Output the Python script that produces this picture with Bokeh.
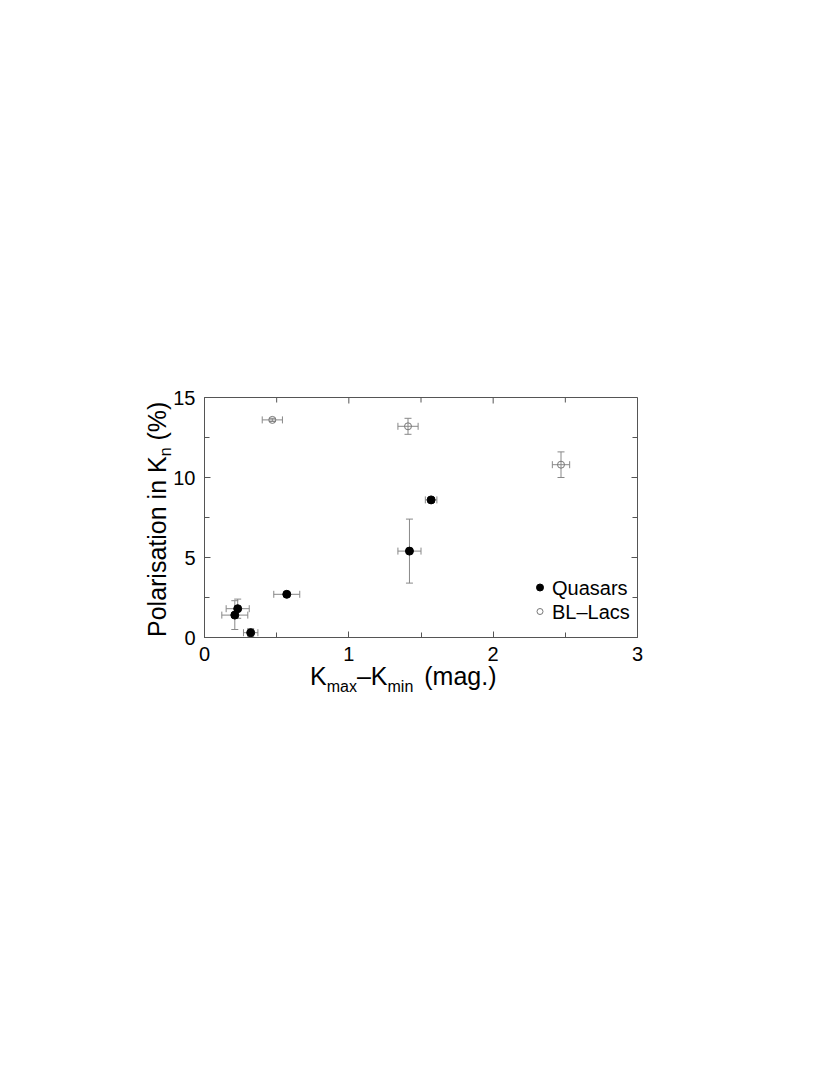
import numpy as np
from bokeh.plotting import figure
from bokeh.layouts import column
from bokeh.models import (ColumnDataSource, Whisker, TeeHead, LinearAxis, Range1d,
                          Label, FixedTicker, Div)
from bokeh.embed import file_html
from bokeh.resources import INLINE

# ---- data ----
q_x = [0.21, 0.23, 0.32, 0.57, 1.42, 1.57]
q_y = [1.4, 1.8, 0.3, 2.7, 5.4, 8.6]
q_xerr = [0.09, 0.08, 0.05, 0.09, 0.08, 0.04]
q_yerr = [0.9, 0.6, 0.25, 0.1, 2.0, 0.15]

b_x = [0.47, 1.41, 2.47]
b_y = [13.6, 13.2, 10.8]
b_xerr = [0.07, 0.07, 0.06]
b_yerr = [0.1, 0.5, 0.8]

x_ticks = [0, 1, 2, 3]
y_ticks = [0, 5, 10, 15]
x_minor = [0.5, 1.5, 2.5]
y_minor = [2.5, 7.5, 12.5]
legend_labels = ["Quasars", "BL\u2013Lacs"]
x_title = ("K", "max", "\u2013K", "min", "(mag.)")
y_title = ("Polarisation in K", "n", "(%)")

FONT = "Liberation Sans"
AXC = "#555555"
ERRC = "#888888"

# frame geometry (page pixels, measured on the reference)
FL, FT, FW, FH = 205, 397, 433, 240
XMIN, XMAX, YMIN, YMAX = 0, 3, 0, 15
BL, BT, BR, BB = FL - 1, FT, 160, 410
PH = BT + FH + BB


def X(px):
    return XMIN + (px - FL) / FW * (XMAX - XMIN)


def Y(py):
    return YMIN + (FT + FH - py) / FH * (YMAX - YMIN)


p = figure(frame_width=FW, frame_height=FH,
           min_border_left=BL, min_border_top=BT,
           min_border_right=BR, min_border_bottom=BB,
           x_range=Range1d(XMIN, XMAX), y_range=Range1d(YMIN, YMAX),
           output_backend="svg", toolbar_location=None,
           x_axis_location=None, y_axis_location=None,
           margin=(-PH, 0, 0, 0))
p.xgrid.visible = False
p.ygrid.visible = False
p.outline_line_color = AXC
p.background_fill_color = "white"
p.border_fill_color = None


def make_axis(ticks, minor):
    ax = LinearAxis(ticker=FixedTicker(ticks=ticks, minor_ticks=minor))
    ax.axis_line_color = AXC
    ax.major_tick_line_color = AXC
    ax.minor_tick_line_color = AXC
    ax.major_tick_in = 6
    ax.major_tick_out = 0
    ax.minor_tick_in = 5
    ax.minor_tick_out = 0
    ax.major_label_text_font = FONT
    ax.major_label_text_color = "black"
    ax.major_label_text_font_size = "20px"
    return ax


xb = make_axis(x_ticks, x_minor)
xb.major_label_standoff = 9
yl = make_axis(y_ticks, y_minor)
yl.major_label_standoff = 9
p.add_layout(xb, "below")
p.add_layout(yl, "left")

# inward ticks on the top and right edges of the frame
dy_major = 6 / FH * (YMAX - YMIN)
dy_minor = 5 / FH * (YMAX - YMIN)
dx_major = 6 / FW * (XMAX - XMIN)
dx_minor = 5 / FW * (XMAX - XMIN)
p.segment(x0=x_ticks, y0=[YMAX] * len(x_ticks), x1=x_ticks,
          y1=[YMAX - dy_major] * len(x_ticks), line_color=AXC, line_width=1)
p.segment(x0=x_minor, y0=[YMAX] * len(x_minor), x1=x_minor,
          y1=[YMAX - dy_minor] * len(x_minor), line_color=AXC, line_width=1)
p.segment(x0=[XMAX] * len(y_ticks), y0=y_ticks, x1=[XMAX - dx_major] * len(y_ticks),
          y1=y_ticks, line_color=AXC, line_width=1)
p.segment(x0=[XMAX] * len(y_minor), y0=y_minor, x1=[XMAX - dx_minor] * len(y_minor),
          y1=y_minor, line_color=AXC, line_width=1)

# ---- error bars ----
qsrc = ColumnDataSource(dict(
    x=q_x, y=q_y,
    xl=np.array(q_x) - np.array(q_xerr), xu=np.array(q_x) + np.array(q_xerr),
    yl=np.array(q_y) - np.array(q_yerr), yu=np.array(q_y) + np.array(q_yerr)))
bsrc = ColumnDataSource(dict(
    x=b_x, y=b_y,
    xl=np.array(b_x) - np.array(b_xerr), xu=np.array(b_x) + np.array(b_xerr),
    yl=np.array(b_y) - np.array(b_yerr), yu=np.array(b_y) + np.array(b_yerr)))

for src in (qsrc, bsrc):
    for base, lo, up, dim in (("y", "xl", "xu", "width"), ("x", "yl", "yu", "height")):
        p.add_layout(Whisker(source=src, base=base, lower=lo, upper=up, dimension=dim,
                             line_color=ERRC, line_width=1, level="underlay",
                             lower_head=TeeHead(size=7, line_color=ERRC, line_width=1),
                             upper_head=TeeHead(size=7, line_color=ERRC, line_width=1)))

p.scatter("x", "y", source=qsrc, size=8, marker="circle",
          fill_color="black", line_color="black")
p.scatter("x", "y", source=bsrc, size=7, marker="circle",
          fill_color=None, line_color="#777777", line_width=1)

# ---- legend (manual) ----
p.scatter([X(540.5)], [Y(587)], size=7, marker="circle", fill_color="black", line_color="black")
p.scatter([X(540.5)], [Y(611)], size=6, marker="circle", fill_color=None, line_color="#777777")
for txt, py in zip(legend_labels, [587, 611]):
    p.add_layout(Label(x=X(552.5), y=Y(py), text=txt, text_font=FONT,
                       text_font_size="20px", text_baseline="middle",
                       text_align="left", text_color="black"))

# ---- axis titles (HTML, for the subscripts), laid under the transparent plot border ----
LH = 28          # line height of the 25px titles
ASC = 22.7       # baseline offset inside the line box
sub_x = "font-size:16px; vertical-align:-7px; line-height:0;"
sub_y = "font-size:16px; vertical-align:-5px; line-height:0;"
xt_html = (f'<div style="position:absolute; left:310px; top:{685 - ASC:.1f}px; '
           f'font-size:25px; line-height:{LH}px; white-space:nowrap;">'
           f'{x_title[0]}<span style="{sub_x}">{x_title[1]}</span>{x_title[2]}'
           f'<span style="{sub_x}">{x_title[3]}</span>'
           f'<span style="margin-left:11px;">{x_title[4]}</span></div>')
yt_html = (f'<div style="position:absolute; left:{165.5 - ASC:.1f}px; top:637px; '
           f'transform-origin:0 0; transform:rotate(-90deg); '
           f'font-size:25px; line-height:{LH}px; white-space:nowrap;">'
           f'{y_title[0]}<span style="{sub_y}">{y_title[1]}</span> {y_title[2]}</div>')
titles = Div(text=(f'<div style="position:relative; width:800px; height:{PH}px; '
                   f'font-family:\'{FONT}\'; color:black;">{xt_html}{yt_html}</div>'),
             width=800, height=PH, margin=(0, 0, 0, 0))

layout = column(titles, p, spacing=0)
open("out.html", "w").write(file_html(layout, INLINE))
